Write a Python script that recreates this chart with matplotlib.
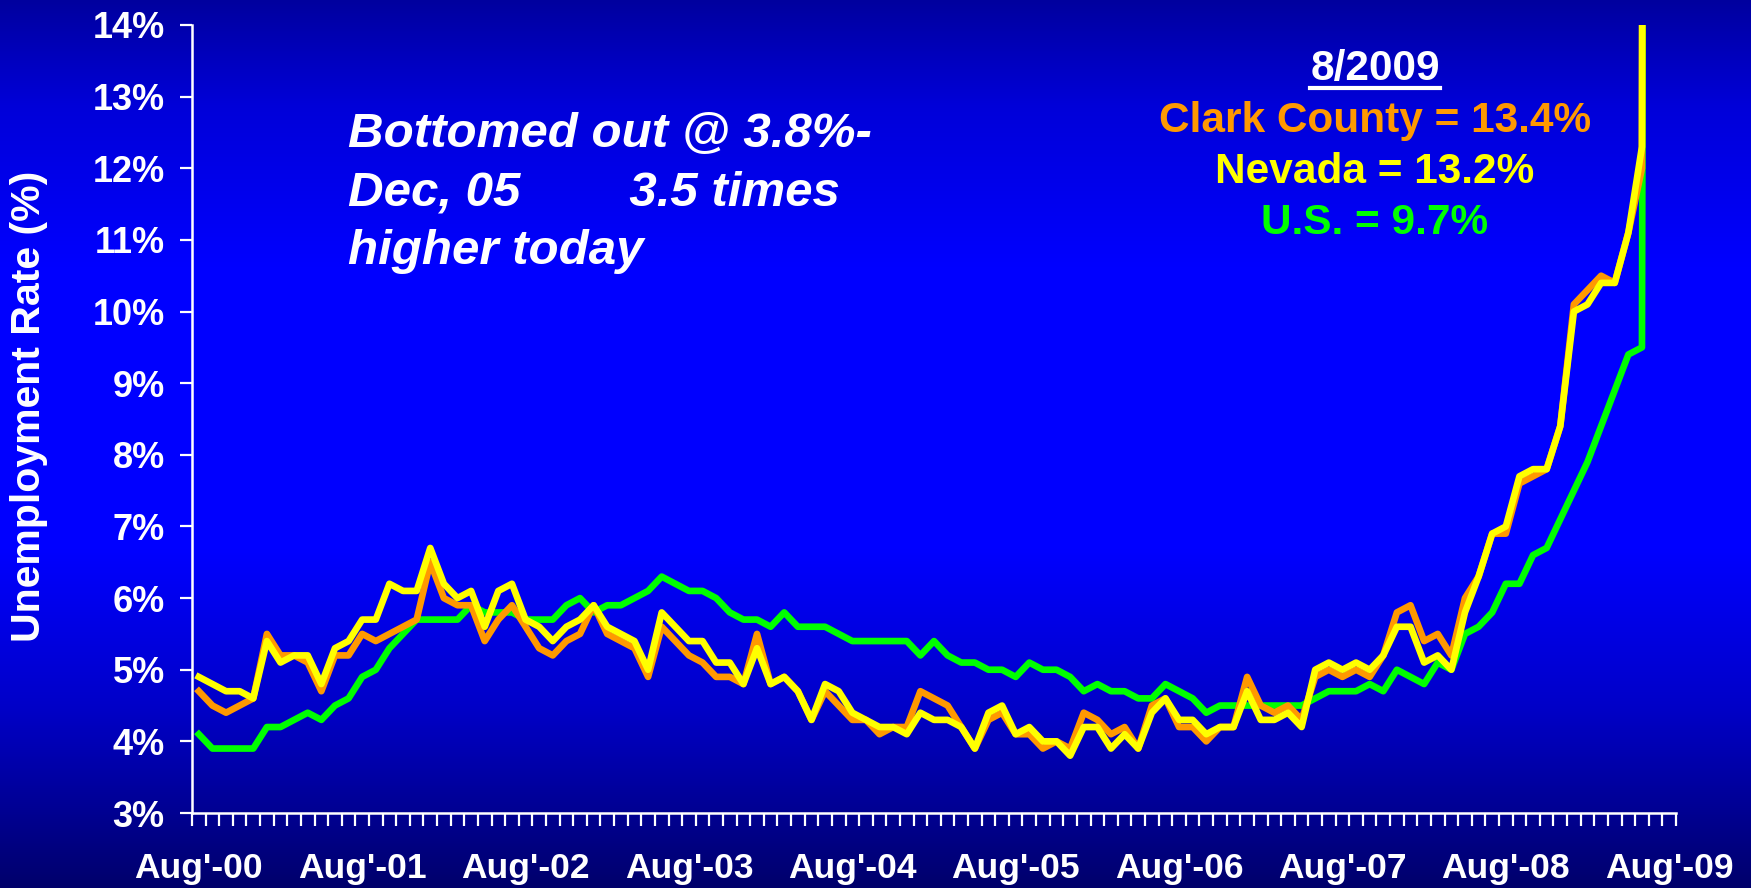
import numpy as np
import matplotlib
matplotlib.use("Agg")
import matplotlib.pyplot as plt
from matplotlib.lines import Line2D

plt.rcParams['font.family'] = ['Liberation Sans', 'DejaVu Sans']

# monthly unemployment rate (%), Aug 2000 onward; last value is off the scale
us = [4.1, 3.9, 3.9, 3.9, 3.9, 4.2, 4.2, 4.3, 4.4, 4.3, 4.5, 4.6,
      4.9, 5.0, 5.3, 5.5, 5.7, 5.7, 5.7, 5.7, 5.9, 5.8, 5.8, 5.8,
      5.7, 5.7, 5.7, 5.9, 6.0, 5.8, 5.9, 5.9, 6.0, 6.1, 6.3, 6.2,
      6.1, 6.1, 6.0, 5.8, 5.7, 5.7, 5.6, 5.8, 5.6, 5.6, 5.6, 5.5,
      5.4, 5.4, 5.4, 5.4, 5.4, 5.2, 5.4, 5.2, 5.1, 5.1, 5.0, 5.0,
      4.9, 5.1, 5.0, 5.0, 4.9, 4.7, 4.8, 4.7, 4.7, 4.6, 4.6, 4.8,
      4.7, 4.6, 4.4, 4.5, 4.5, 4.5, 4.5, 4.5, 4.5, 4.5, 4.6, 4.7,
      4.7, 4.7, 4.8, 4.7, 5.0, 4.9, 4.8, 5.1, 5.0, 5.5, 5.6, 5.8,
      6.2, 6.2, 6.6, 6.7, 7.1, 7.5, 7.9, 8.4, 8.9, 9.4, 9.5, 97]
clark = [4.7, 4.5, 4.4, 4.5, 4.6, 5.5, 5.2, 5.2, 5.1, 4.7, 5.2, 5.2,
         5.5, 5.4, 5.5, 5.6, 5.7, 6.5, 6.0, 5.9, 5.9, 5.4, 5.7, 5.9,
         5.6, 5.3, 5.2, 5.4, 5.5, 5.9, 5.5, 5.4, 5.3, 4.9, 5.6, 5.4,
         5.2, 5.1, 4.9, 4.9, 4.8, 5.5, 4.8, 4.9, 4.7, 4.3, 4.7, 4.5,
         4.3, 4.3, 4.1, 4.2, 4.2, 4.7, 4.6, 4.5, 4.2, 3.9, 4.3, 4.4,
         4.1, 4.1, 3.9, 4.0, 3.9, 4.4, 4.3, 4.1, 4.2, 3.9, 4.5, 4.6,
         4.2, 4.2, 4.0, 4.2, 4.2, 4.9, 4.5, 4.4, 4.5, 4.3, 4.9, 5.0,
         4.9, 5.0, 4.9, 5.2, 5.8, 5.9, 5.4, 5.5, 5.2, 6.0, 6.3, 6.9,
         6.9, 7.6, 7.7, 7.8, 8.4, 10.1, 10.3, 10.5, 10.4, 11.1, 12.0, 134]
nevada = [4.9, 4.8, 4.7, 4.7, 4.6, 5.4, 5.1, 5.2, 5.2, 4.8, 5.3, 5.4,
          5.7, 5.7, 6.2, 6.1, 6.1, 6.7, 6.2, 6.0, 6.1, 5.6, 6.1, 6.2,
          5.7, 5.6, 5.4, 5.6, 5.7, 5.9, 5.6, 5.5, 5.4, 5.0, 5.8, 5.6,
          5.4, 5.4, 5.1, 5.1, 4.8, 5.3, 4.8, 4.9, 4.7, 4.3, 4.8, 4.7,
          4.4, 4.3, 4.2, 4.2, 4.1, 4.4, 4.3, 4.3, 4.2, 3.9, 4.4, 4.5,
          4.1, 4.2, 4.0, 4.0, 3.8, 4.2, 4.2, 3.9, 4.1, 3.9, 4.4, 4.6,
          4.3, 4.3, 4.1, 4.2, 4.2, 4.7, 4.3, 4.3, 4.4, 4.2, 5.0, 5.1,
          5.0, 5.1, 5.0, 5.2, 5.6, 5.6, 5.1, 5.2, 5.0, 5.8, 6.3, 6.9,
          7.0, 7.7, 7.8, 7.8, 8.4, 10.0, 10.1, 10.4, 10.4, 11.1, 12.3, 132]

n_months = 109  # Aug'00 .. Aug'09 on the category axis
year_labels = ["Aug'-00", "Aug'-01", "Aug'-02", "Aug'-03", "Aug'-04",
               "Aug'-05", "Aug'-06", "Aug'-07", "Aug'-08", "Aug'-09"]
y_ticks = list(range(3, 15))

note = "Bottomed out @ 3.8%-\nDec, 05        3.5 times\nhigher today"
summary = [("Clark County = 13.4%", "#FF9900"),
           ("Nevada = 13.2%", "#FFFF00"),
           ("U.S. = 9.7%", "#00FF00")]

W, H = 1751, 888
fig = plt.figure(figsize=(W / 100, H / 100), dpi=100)

# vertical blue gradient background
bg = fig.add_axes([0, 0, 1, 1], zorder=-1)
t = np.linspace(0, 1, 400)
blue = np.interp(t, [0, 0.12, 0.3, 0.62, 0.8, 1.0], [0.62, 0.85, 1.0, 1.0, 0.78, 0.42])
grad = np.zeros((len(t), 1, 3))
grad[:, 0, 2] = blue
bg.imshow(grad, aspect="auto", extent=[0, 1, 0, 1])
bg.axis("off")

ax = fig.add_axes([192 / W, 1 - 813 / H, 1484 / W, 788 / H])
ax.patch.set_alpha(0)

x = np.arange(len(us))
ax.plot(x, us, color="#00FF00", lw=4.8, solid_joinstyle="round")
ax.plot(x, clark, color="#FF9900", lw=4.8, solid_joinstyle="round")
ax.plot(x, nevada, color="#FFFF00", lw=4.8, solid_joinstyle="round")

ax.set_xlim(-0.5, n_months - 0.5)
ax.set_ylim(3, 14)

for s in ["top", "right"]:
    ax.spines[s].set_visible(False)
for s in ["left", "bottom"]:
    ax.spines[s].set_color("white")
    ax.spines[s].set_linewidth(1.8)

ax.set_yticks(y_ticks)
ax.set_yticklabels([f"{v}%" for v in y_ticks])
ax.tick_params(axis="y", colors="white", length=8.6, width=1.6, pad=11,
               labelsize=26)
for lab in ax.get_yticklabels():
    lab.set_fontweight("bold")

ax.set_xticks(np.arange(0, n_months, 12))
ax.set_xticklabels(year_labels)
ax.set_xticks(np.arange(-0.5, n_months, 1), minor=True)
ax.tick_params(axis="x", which="major", length=0, pad=28, colors="white",
               labelsize=25.5)
ax.tick_params(axis="x", which="minor", length=9.4, width=1.6, colors="white")
for lab in ax.get_xticklabels():
    lab.set_fontweight("bold")

fig.text(29 / W, 1 - 406 / H, "Unemployment Rate (%)", rotation=90,
         ha="center", va="center", color="white", fontsize=29.5,
         fontweight="bold")

fig.text(348 / W, 1 - 112 / H, note, ha="left", va="top", color="white",
         fontsize=35.5, fontweight="bold", style="italic", linespacing=1.39)

head = fig.text(1375 / W, 1 - 80 / H, "8/2009", ha="center",
                va="baseline", color="white", fontsize=30.5, fontweight="bold")
for k, (txt, col) in enumerate(summary):
    fig.text(1375 / W, 1 - (132 + 51 * k) / H, txt, ha="center",
             va="baseline", color=col, fontsize=30.5, fontweight="bold")

# underline the date heading
fig.canvas.draw()
bb = head.get_window_extent().transformed(fig.transFigure.inverted())
fig.add_artist(Line2D([bb.x0, bb.x1], [1 - 88 / H] * 2,
                      transform=fig.transFigure, color="white", lw=3))

fig.savefig("out.png", dpi=100)
